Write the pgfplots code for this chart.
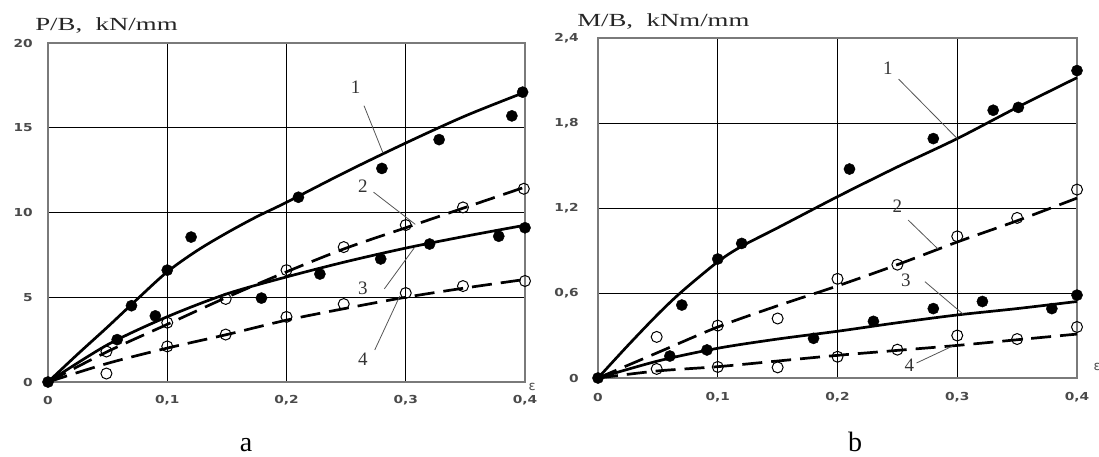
\documentclass[border=0pt]{standalone}
\usepackage{fontspec}
\usepackage{pgfplots}
\pgfplotsset{compat=1.18}
\setmainfont{Liberation Serif}
\newfontfamily\tickfont{DejaVu Sans}
\definecolor{TickInk}{HTML}{4A4A4A}
\definecolor{FrameInk}{HTML}{7A7A7A}
\definecolor{LeadInk}{HTML}{555555}
\newcommand\tk[1]{\scalebox{1.25}[1]{#1}}

\pgfplotsset{
  panel/.style={scale only axis, anchor=south west, xmin=0, xmax=0.4,
    xtick={0,0.1,0.2,0.3,0.4}, xticklabels={\tk{0},\tk{0,1},\tk{0,2},\tk{0,3},\tk{0,4}},
    /pgf/number format/assume math mode=true,
    grid=major, major grid style={black, line width=0.8pt},
    axis line style={FrameInk, line width=1.6pt}, major tick length=0pt, clip=false,
    tick label style={font=\tickfont\bfseries\fontsize{11}{12}\selectfont, text=TickInk},
    xticklabel style={anchor=center, inner sep=0pt, yshift=-18pt},
    yticklabel style={anchor=east, inner sep=0pt}},
  solidc/.style={black, line width=2.7pt, smooth, no marks},
  dashc/.style={black, line width=2.7pt, smooth, no marks, dash pattern=on 20pt off 9pt},
  fdots/.style={only marks, mark=*, mark size=5.6pt, mark options={solid, fill=black, draw=black}},
  odots/.style={only marks, mark=o, mark size=5.5pt, mark options={solid, draw=black, line width=1pt}}
}
\tikzset{
  lead/.style={LeadInk, line width=0.8pt},
  numlab/.style={font=\fontsize{19}{20}\selectfont, text=black!80}
}

\begin{document}
\begin{tikzpicture}
\useasboundingbox (0,0) rectangle (1099pt,456pt);

% ---- panel a
\begin{axis}[panel, at={(48pt,74pt)}, width=477pt, height=339pt,
  ymin=0, ymax=20, ytick={0,5,10,15,20}, yticklabels={\tk{0},\tk{5},\tk{10},\tk{15},\tk{20}},
  yticklabel style={xshift=-15pt}]
\addplot[solidc] coordinates {(0,0)(0.025,1.65)(0.05,3.25)(0.075,4.9)(0.1,6.5)(0.125,7.75)(0.15,8.8)(0.175,9.75)(0.2,10.6)(0.25,12.4)(0.3,14.1)(0.35,15.7)(0.4,17.1)};
\addplot[dashc] coordinates {(0,0)(0.05,1.8)(0.1,3.4)(0.15,5.0)(0.2,6.5)(0.25,7.9)(0.3,9.1)(0.35,10.3)(0.4,11.5)};
\addplot[solidc] coordinates {(0,0)(0.05,2.2)(0.1,3.85)(0.15,5.2)(0.2,6.2)(0.25,7.1)(0.3,7.9)(0.35,8.6)(0.4,9.25)};
\addplot[dashc] coordinates {(0,0)(0.05,1.1)(0.1,2.0)(0.15,2.8)(0.2,3.65)(0.25,4.35)(0.3,5.0)(0.35,5.55)(0.4,6.05)};
\addplot[fdots] coordinates {(0,0)(0.07,4.5)(0.1,6.6)(0.12,8.55)(0.21,10.9)(0.28,12.6)(0.328,14.3)(0.389,15.7)(0.398,17.1)};
\addplot[odots] coordinates {(0.049,1.8)(0.1,3.5)(0.149,4.9)(0.2,6.6)(0.248,7.96)(0.3,9.26)(0.348,10.3)(0.399,11.4)};
\addplot[fdots] coordinates {(0.058,2.5)(0.09,3.9)(0.179,4.95)(0.228,6.37)(0.279,7.26)(0.32,8.14)(0.378,8.6)(0.4,9.1)};
\addplot[odots] coordinates {(0.049,0.5)(0.1,2.1)(0.149,2.8)(0.2,3.84)(0.248,4.6)(0.3,5.25)(0.348,5.66)(0.4,5.96)};
\draw[lead] (axis cs:0.265,16.3) -- (axis cs:0.281,13.5);
\draw[lead] (axis cs:0.273,11.2) -- (axis cs:0.308,9.3);
\draw[lead] (axis cs:0.282,5.49) -- (axis cs:0.307,7.9);
\draw[lead] (axis cs:0.274,1.89) -- (axis cs:0.295,5.07);
\node[numlab] at (axis cs:0.258,17.4) {1};
\node[numlab] at (axis cs:0.264,11.56) {2};
\node[numlab] at (axis cs:0.264,5.55) {3};
\node[numlab] at (axis cs:0.264,1.36) {4};
\node[font=\tickfont\fontsize{13}{14}\selectfont, text=TickInk] at (axis cs:0.4059,-0.3) {ε};
\end{axis}

% ---- panel b
\begin{axis}[panel, at={(598pt,78pt)}, width=479pt, height=340pt,
  ymin=0, ymax=2.4, ytick={0,0.6,1.2,1.8,2.4}, yticklabels={\tk{0},\tk{0,6},\tk{1,2},\tk{1,8},\tk{2,4}},
  yticklabel style={xshift=-19pt}, xticklabel style={yshift=-1pt}]
\addplot[solidc] coordinates {(0,0)(0.025,0.23)(0.05,0.45)(0.07,0.61)(0.1,0.82)(0.12,0.93)(0.15,1.06)(0.2,1.28)(0.25,1.49)(0.3,1.69)(0.35,1.91)(0.4,2.12)};
\addplot[dashc] coordinates {(0,0)(0.05,0.18)(0.1,0.36)(0.15,0.51)(0.2,0.65)(0.25,0.80)(0.3,0.96)(0.35,1.11)(0.4,1.27)};
\addplot[solidc] coordinates {(0,0)(0.05,0.12)(0.1,0.21)(0.15,0.275)(0.2,0.33)(0.25,0.39)(0.3,0.445)(0.35,0.49)(0.4,0.54)};
\addplot[dashc] coordinates {(0,0)(0.05,0.05)(0.1,0.08)(0.15,0.12)(0.2,0.16)(0.25,0.195)(0.3,0.23)(0.35,0.27)(0.4,0.31)};
\addplot[fdots] coordinates {(0,0)(0.07,0.515)(0.1,0.84)(0.12,0.95)(0.21,1.475)(0.28,1.69)(0.33,1.89)(0.351,1.91)(0.4,2.17)};
\addplot[odots] coordinates {(0.049,0.29)(0.1,0.37)(0.15,0.42)(0.2,0.70)(0.25,0.80)(0.3,1.0)(0.35,1.13)(0.4,1.33)};
\addplot[fdots] coordinates {(0.06,0.155)(0.091,0.198)(0.18,0.28)(0.23,0.40)(0.28,0.49)(0.321,0.54)(0.379,0.49)(0.4,0.585)};
\addplot[odots] coordinates {(0.049,0.064)(0.1,0.078)(0.15,0.075)(0.2,0.15)(0.25,0.20)(0.3,0.30)(0.35,0.275)(0.4,0.36)};
\draw[lead] (axis cs:0.251,2.11) -- (axis cs:0.30,1.69);
\draw[lead] (axis cs:0.259,1.115) -- (axis cs:0.284,0.91);
\draw[lead] (axis cs:0.273,0.68) -- (axis cs:0.305,0.45);
\draw[lead] (axis cs:0.266,0.106) -- (axis cs:0.296,0.225);
\node[numlab] at (axis cs:0.242,2.19) {1};
\node[numlab] at (axis cs:0.25,1.21) {2};
\node[numlab] at (axis cs:0.257,0.69) {3};
\node[numlab] at (axis cs:0.26,0.09) {4};
\node[font=\tickfont\fontsize{13}{14}\selectfont, text=TickInk] at (axis cs:0.4167,0.08) {ε};
\end{axis}

% ---- titles and panel letters
\node[anchor=base west, inner sep=0pt, xscale=1.45, font=\fontsize{18.5}{20}\selectfont, text=black!85] at (35pt,425pt) {P/B,\ \ kN/mm};
\node[anchor=base west, inner sep=0pt, xscale=1.45, font=\fontsize{18.5}{20}\selectfont, text=black!85] at (577pt,429pt) {M/B,\ \ kNm/mm};
\node[anchor=base, inner sep=0pt, font=\fontsize{28}{30}\selectfont] at (246pt,5pt) {a};
\node[anchor=base, inner sep=0pt, font=\fontsize{28}{30}\selectfont] at (855pt,5pt) {b};
\end{tikzpicture}
\end{document}
